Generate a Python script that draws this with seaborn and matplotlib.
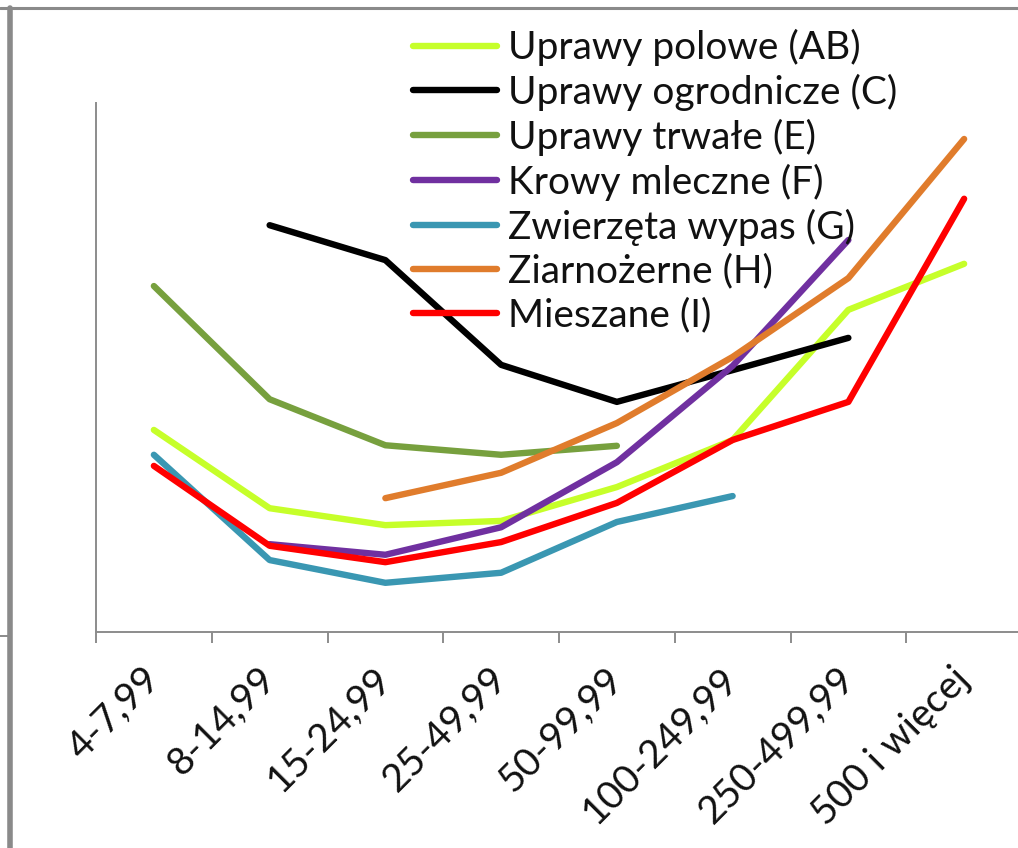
import numpy as np
import pandas as pd
import matplotlib
matplotlib.use("Agg")
import matplotlib.pyplot as plt
import matplotlib.transforms as mtrans
from matplotlib.lines import Line2D
import seaborn as sns

# --- data (arbitrary units) ---
categories = ["4-7,99", "8-14,99", "15-24,99", "25-49,99", "50-99,99",
              "100-249,99", "250-499,99", "500 i więcej"]

uprawy_polowe = [38.2, 23.4, 20.2, 21.0, 27.4, 36.3, 60.9, 69.6]
uprawy_ogrodnicze = [np.nan, 76.9, 70.3, 50.5, 43.5, 49.5, 55.6, np.nan]
uprawy_trwale = [65.4, 44.0, 35.3, 33.5, 35.2, np.nan, np.nan, np.nan]
krowy_mleczne = [np.nan, 16.6, 14.6, 19.8, 32.1, 50.3, 74.1, np.nan]
zwierzeta_wypas = [33.5, 13.6, 9.3, 11.2, 20.8, 25.7, np.nan, np.nan]
ziarnozerne = [np.nan, np.nan, 25.3, 30.1, 39.5, 52.0, 66.9, 93.2]
mieszane = [31.4, 16.3, 13.2, 17.0, 24.4, 36.3, 43.5, 81.9]

series_names = ["Uprawy polowe (AB)", "Uprawy ogrodnicze (C)", "Uprawy trwałe (E)",
                "Krowy mleczne (F)", "Zwierzęta wypas (G)", "Ziarnożerne (H)",
                "Mieszane (I)"]
series_values = [uprawy_polowe, uprawy_ogrodnicze, uprawy_trwale, krowy_mleczne,
                 zwierzeta_wypas, ziarnozerne, mieszane]
colors = ["#c6ff2a", "#000000", "#77a03e", "#7030a0", "#3a97b2", "#e07c2c", "#ff0000"]

# long table for seaborn
rows = []
for name, vals in zip(series_names, series_values):
    for i, v in enumerate(vals):
        rows.append({"grupa": name, "pos": i, "val": v})
df = pd.DataFrame(rows).dropna()

sns.set_style("white")
plt.rcParams["font.family"] = ["Lato", "DejaVu Sans"]

fig = plt.figure(figsize=(10.18, 8.48), dpi=100)
W, H = 1018, 848
ax = fig.add_axes([96 / W, (H - 632) / H, 926 / W, 529 / H])

sns.lineplot(data=df, x="pos", y="val", hue="grupa", hue_order=series_names,
             palette=colors, linewidth=4.6, sort=False, estimator=None,
             ax=ax, solid_capstyle="round")

ax.set_xlim(-0.5, len(categories) - 0.5)
ax.set_ylim(0, 100)
ax.set_xlabel("")
ax.set_ylabel("")
ax.set_yticks([])

axis_col = "#8c8c8c"
for s in ["top", "right"]:
    ax.spines[s].set_visible(False)
for s in ["left", "bottom"]:
    ax.spines[s].set_color(axis_col)
    ax.spines[s].set_linewidth(1.4)

# boundary tick marks (minor) and centred labels (major)
ax.set_xticks(np.arange(-0.5, len(categories), 1.0), minor=True)
ax.set_xticks(np.arange(len(categories)))
ax.set_xticklabels(categories, rotation=45, ha="right", va="center",
                   rotation_mode="anchor", fontsize=28, color="#111111")
ax.tick_params(axis="x", which="minor", length=8, width=1.4, color=axis_col,
               direction="out", bottom=True)
ax.tick_params(axis="x", which="major", length=0, pad=30)
for lab in ax.get_xticklabels():
    lab.set_transform(lab.get_transform() +
                      mtrans.ScaledTranslation(0.0, 0, fig.dpi_scale_trans))

leg = ax.legend(loc="upper left", bbox_to_anchor=(413 / W, 1 - 29 / H),
                bbox_transform=fig.transFigure, frameon=False, fontsize=28,
                handlelength=2.15, handletextpad=0.28, labelspacing=0.2,
                borderpad=0, borderaxespad=0)
for t in leg.get_texts():
    t.set_color("#111111")
for h in leg.get_lines():
    h.set_linewidth(4.6)
    h.set_solid_capstyle("round")

# frame of the surrounding sheet (cropped screenshot)
fig.add_artist(Line2D([0, 1], [1 - 8 / H, 1 - 8 / H], color="#8a8a8a", lw=2.2,
                      transform=fig.transFigure))
fig.add_artist(Line2D([10 / W, 10 / W], [0, 1 - 8 / H], color="#8a8a8a", lw=4,
                      transform=fig.transFigure))
fig.add_artist(Line2D([0, 10 / W], [1 - 636 / H, 1 - 636 / H], color="#8a8a8a",
                      lw=1.4, transform=fig.transFigure))

fig.savefig("out.png", dpi=100)
